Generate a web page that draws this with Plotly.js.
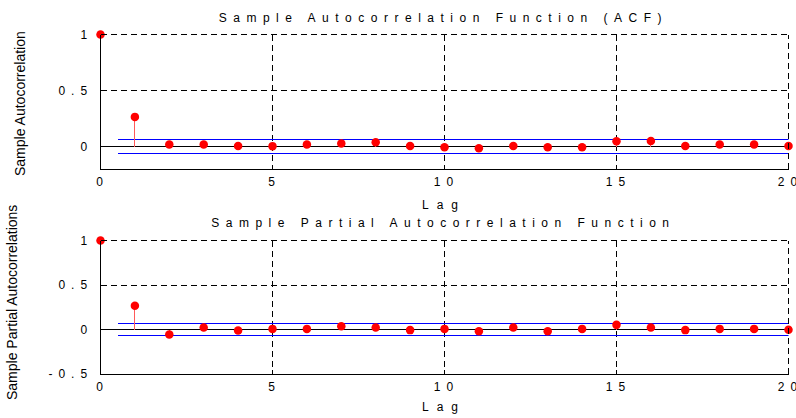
<!DOCTYPE html>
<html>
<head>
<meta charset="utf-8">
<script src="https://cdn.plot.ly/plotly-3.0.1.min.js"></script>
<style>
html, body { margin: 0; padding: 0; background: #fff; }
#chart { width: 796px; height: 418px; }
.xtick text, .ytick text, .x2tick text, .y2tick text { letter-spacing: 6px; }
.scatterlayer .js-line, .shapelayer path { shape-rendering: crispEdges; }
</style>
</head>
<body>
<div id="chart"></div>
<script>
// ---- data ----
const lags = [0,1,2,3,4,5,6,7,8,9,10,11,12,13,14,15,16,17,18,19,20];
const acfValues = [1, 0.265, 0.018, 0.018, 0.006, 0.004, 0.018, 0.027, 0.038, 0.006, -0.006,
                   -0.015, 0.006, -0.006, -0.006, 0.047, 0.05, 0.006, 0.018, 0.018, 0.006];
const pacfValues = [1, 0.268, -0.056, 0.022, -0.011, 0.007, 0.007, 0.037, 0.022, -0.007, 0.007,
                    -0.019, 0.022, -0.019, 0.007, 0.052, 0.022, -0.007, 0.007, 0.007, -0.004];
const acfBound = 0.062;
const pacfBound = 0.065;
const boundStart = 0.5;
const lagTickVals = [0, 5, 10, 15, 20];
const lagTickText = ['0', '5', '10', '15', '20'];
const acfTickVals = [0, 0.5, 1];
const acfTickText = ['0', '0.5', '1'];
const pacfTickVals = [-0.5, 0, 0.5, 1];
const pacfTickText = ['-0.5', '0', '0.5', '1'];
const acfTitle = 'Sample Autocorrelation Function (ACF)';
const pacfTitle = 'Sample Partial Autocorrelation Function';
const xLabel = 'Lag';
const acfYLabel = 'Sample Autocorrelation';
const pacfYLabel = 'Sample Partial Autocorrelations';

// ---- helpers ----
function stems(xs, ys) {
  const x = [], y = [];
  xs.forEach((l, i) => { x.push(l, l, null); y.push(0, ys[i], null); });
  return {x, y};
}
const maxLag = lags[lags.length - 1];
const FONT = 'Liberation Sans, Arial, sans-serif';

function panelTraces(vals, bound, xa, ya) {
  const s = stems(lags, vals);
  return [
    {x: [boundStart, maxLag], y: [bound, bound], xaxis: xa, yaxis: ya, mode: 'lines',
     line: {color: '#0000ff', width: 1}, hoverinfo: 'skip'},
    {x: [boundStart, maxLag], y: [-bound, -bound], xaxis: xa, yaxis: ya, mode: 'lines',
     line: {color: '#0000ff', width: 1}, hoverinfo: 'skip'},
    {x: s.x, y: s.y, xaxis: xa, yaxis: ya, mode: 'lines', connectgaps: false,
     line: {color: '#ff5a5a', width: 1}, hoverinfo: 'skip'},
    {x: lags, y: vals, xaxis: xa, yaxis: ya, mode: 'markers', cliponaxis: false,
     marker: {color: '#ff0000', size: 8.5, line: {width: 0}}, hoverinfo: 'skip'}
  ];
}

const data = [].concat(
  panelTraces(acfValues, acfBound, 'x', 'y'),
  panelTraces(pacfValues, pacfBound, 'x2', 'y2')
);

const xDomain = [100.5 / 796, 788.5 / 796];
const yDomainTop = [1 - 169 / 418, 1 - 34.5 / 418];
const yDomainBottom = [1 - 374 / 418, 1 - 240.5 / 418];
function xAxis(anchor) {
  return {
    domain: xDomain, anchor: anchor, range: [0, maxLag],
    tickvals: lagTickVals, ticktext: lagTickText,
    ticks: 'inside', ticklen: 4, tickcolor: '#000', tickwidth: 1,
    ticklabelstandoff: 2, ticklabeloverflow: 'allow',
    showline: true, linecolor: '#000', linewidth: 1, mirror: false,
    showgrid: true, gridcolor: '#000', gridwidth: 1, griddash: '6px,4px',
    zeroline: false, fixedrange: true,
    tickfont: {family: FONT, size: 12, color: '#000'}
  };
}
function yAxis(anchor, range, tv, tt, dom) {
  return {
    domain: dom, anchor: anchor, range: range,
    tickvals: tv, ticktext: tt,
    ticks: 'inside', ticklen: 4, tickcolor: '#000', tickwidth: 1,
    ticklabelstandoff: 4, ticklabeloverflow: 'allow',
    showline: true, linecolor: '#000', linewidth: 1, mirror: false,
    showgrid: true, gridcolor: '#000', gridwidth: 1, griddash: '6px,4px',
    zeroline: true, zerolinecolor: '#000', zerolinewidth: 1, fixedrange: true,
    tickfont: {family: FONT, size: 12, color: '#000'}
  };
}
// dashed frame lines on the top and right edges of each panel (paper refs, so they are not clipped)
function edgeGrid(yDom) {
  const line = {color: '#000', width: 1, dash: '6px,4px'};
  return [
    {type: 'line', xref: 'paper', yref: 'paper', x0: xDomain[1], x1: xDomain[1], y0: yDom[0], y1: yDom[1], line: line},
    {type: 'line', xref: 'paper', yref: 'paper', x0: xDomain[0], x1: xDomain[1], y0: yDom[1], y1: yDom[1], line: line}
  ];
}
function ann(text, xpx, ypx, size, angle) {
  return {text: text, xref: 'paper', yref: 'paper', x: xpx / 796, y: 1 - ypx / 418,
          xanchor: 'center', yanchor: 'middle', showarrow: false, textangle: angle || 0,
          font: {family: FONT, size: size, color: '#000'}};
}
const layout = {
  width: 796, height: 418,
  margin: {l: 0, r: 0, t: 0, b: 0, pad: 0},
  paper_bgcolor: '#fff', plot_bgcolor: '#fff',
  showlegend: false,
  xaxis: xAxis('y'),
  yaxis: yAxis('x', [-0.2, 1], acfTickVals, acfTickText, yDomainTop),
  xaxis2: xAxis('y2'),
  yaxis2: yAxis('x2', [-0.5, 1], pacfTickVals, pacfTickText, yDomainBottom),
  shapes: [].concat(edgeGrid(yDomainTop), edgeGrid(yDomainBottom)),
  annotations: [
    ann(acfTitle, 443, 18, 12),
    ann(pacfTitle, 443, 223, 12),
    ann(xLabel, 444, 205, 12),
    ann(xLabel, 444, 407, 12),
    ann(acfYLabel, 20, 104, 14, -90),
    ann(pacfYLabel, 12, 303, 14, -90)
  ]
};
const spacing = ['6.5px', '6.5px', '8px', '8px', null, null];
Plotly.newPlot('chart', data, layout, {staticPlot: true, displayModeBar: false}).then(() => {
  const els = document.querySelectorAll('#chart .annotation .annotation-text');
  els.forEach((el, i) => { if (spacing[i]) el.style.letterSpacing = spacing[i]; });
  // recentre letter-spaced x tick labels (the spacing adds a trailing gap)
  document.querySelectorAll('#chart .xtick text, #chart .x2tick text').forEach(t => t.setAttribute('dx', '2'));
});
</script>
</body>
</html>
